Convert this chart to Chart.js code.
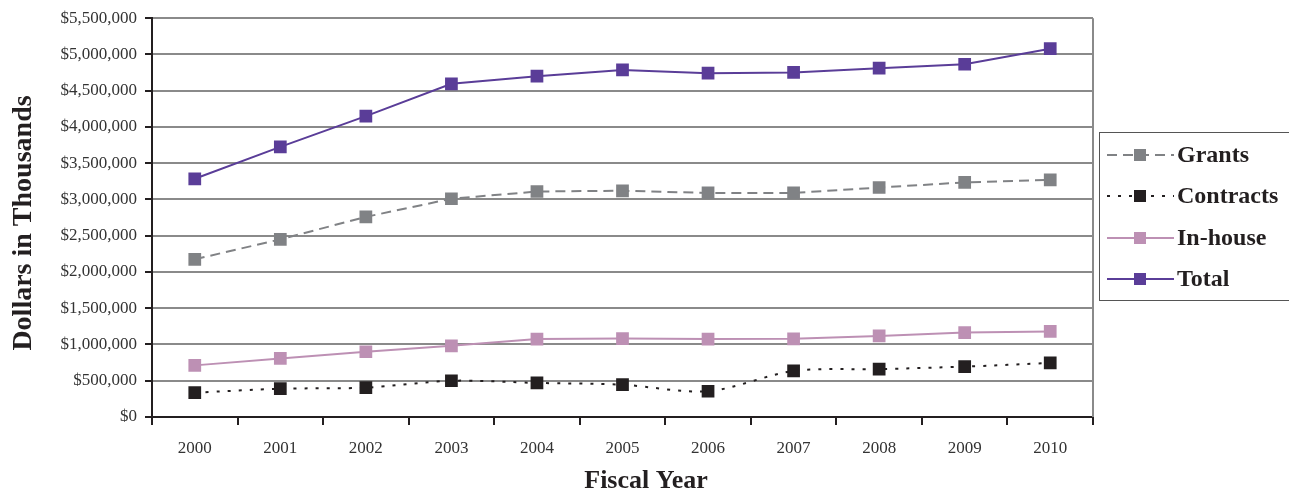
<!DOCTYPE html>
<html>
<head>
<meta charset="utf-8">
<script src="https://cdn.jsdelivr.net/npm/chart.js@4.4.0/dist/chart.umd.min.js"></script>
<style>
  html, body { margin: 0; padding: 0; background: #fff; }
  #wrap { width: 1289px; height: 492px; }
</style>
</head>
<body>
<div id="wrap"><canvas id="c" width="1289" height="492"></canvas></div>
<script>
// Fiscal years and spending by category (dollars in thousands)
const years = ['2000','2001','2002','2003','2004','2005','2006','2007','2008','2009','2010'];
const grants    = [2175000, 2450000, 2760000, 3010000, 3110000, 3120000, 3090000, 3090000, 3165000, 3235000, 3270000];
const contracts = [ 335000,  390000,  405000,  500000,  470000,  445000,  355000,  635000,  660000,  695000,  745000];
const inhouse   = [ 712000,  808000,  900000,  982000, 1075000, 1082000, 1075000, 1078000, 1118000, 1165000, 1180000];
const total     = [3285000, 3725000, 4150000, 4595000, 4700000, 4787000, 4742000, 4752000, 4810000, 4865000, 5080000];
const yTicks = { min: 0, max: 5500000, step: 500000 };

const SERIF = '"Liberation Serif", "DejaVu Serif", serif';

// Boxed legend on the right, axis titles and the plot's right edge
const decorations = {
  id: 'decorations',
  afterDraw(chart) {
    const ctx = chart.ctx;
    const area = chart.chartArea;
    ctx.save();

    // right edge of plot
    ctx.strokeStyle = '#8a8a8a';
    ctx.lineWidth = 2;
    ctx.beginPath();
    ctx.moveTo(area.right, area.top);
    ctx.lineTo(area.right, area.bottom);
    ctx.stroke();

    // axis titles
    ctx.fillStyle = '#231f20';
    ctx.textAlign = 'center';
    ctx.textBaseline = 'middle';
    ctx.font = 'bold 26px ' + SERIF;
    ctx.fillText('Fiscal Year', 646, 481);
    ctx.save();
    ctx.translate(24, 223);
    ctx.rotate(-Math.PI / 2);
    ctx.font = 'bold 28px ' + SERIF;
    ctx.fillText('Dollars in Thousands', 0, 0);
    ctx.restore();

    // legend box
    ctx.strokeStyle = '#555';
    ctx.lineWidth = 1;
    ctx.strokeRect(1099.5, 132.5, 200, 168);

    const rows = [155, 196, 238, 279];
    chart.data.datasets.forEach((ds, i) => {
      const y = rows[i];
      ctx.strokeStyle = ds.borderColor;
      ctx.lineWidth = 2;
      ctx.setLineDash(ds.borderDash || []);
      ctx.beginPath();
      ctx.moveTo(1107, y);
      ctx.lineTo(1174, y);
      ctx.stroke();
      ctx.setLineDash([]);
      ctx.fillStyle = ds.pointBackgroundColor;
      ctx.fillRect(1134, y - 6, 12, 12);
      ctx.fillStyle = '#231f20';
      ctx.font = 'bold 24px ' + SERIF;
      ctx.textAlign = 'left';
      ctx.textBaseline = 'middle';
      ctx.fillText(ds.label, 1177, y + 1);
    });
    ctx.restore();
  }
};

function series(label, data, color, dash, tension) {
  return {
    label, data,
    borderColor: color,
    backgroundColor: color,
    pointBackgroundColor: color,
    pointBorderColor: color,
    pointBorderWidth: 0,
    pointStyle: 'rect',
    pointRadius: 9,
    borderWidth: 2,
    borderDash: dash,
    tension: tension,
    fill: false
  };
}

new Chart(document.getElementById('c'), {
  type: 'line',
  data: {
    labels: years,
    datasets: [
      series('Grants', grants, '#808285', [10, 6], 0),
      series('Contracts', contracts, '#231f20', [3, 8], 0.3),
      series('In-house', inhouse, '#bd90b4', [], 0),
      series('Total', total, '#5a3d98', [], 0)
    ]
  },
  options: {
    responsive: false,
    animation: false,
    layout: { padding: { top: 17, right: 196, left: 0, bottom: 0 } },
    plugins: { legend: { display: false }, tooltip: { enabled: false } },
    scales: {
      x: {
        offset: true,
        grid: { offset: true, drawOnChartArea: false, drawTicks: true, tickLength: 8, tickColor: '#231f20', lineWidth: 2 },
        border: { color: '#231f20', width: 2 },
        ticks: { color: '#333', font: { family: SERIF, size: 17 }, padding: 13, maxRotation: 0 },
        afterFit(s) { s.height = 75; }
      },
      y: {
        min: yTicks.min, max: yTicks.max,
        grid: { color: '#8a8a8a', lineWidth: 2, tickLength: 7, tickColor: '#231f20' },
        border: { color: '#231f20', width: 2 },
        ticks: {
          stepSize: yTicks.step,
          color: '#333',
          font: { family: SERIF, size: 17 },
          padding: 8,
          callback: v => '$' + Number(v).toLocaleString('en-US')
        },
        afterFit(s) { s.width = 152; }
      }
    }
  },
  plugins: [decorations]
});
</script>
</body>
</html>
